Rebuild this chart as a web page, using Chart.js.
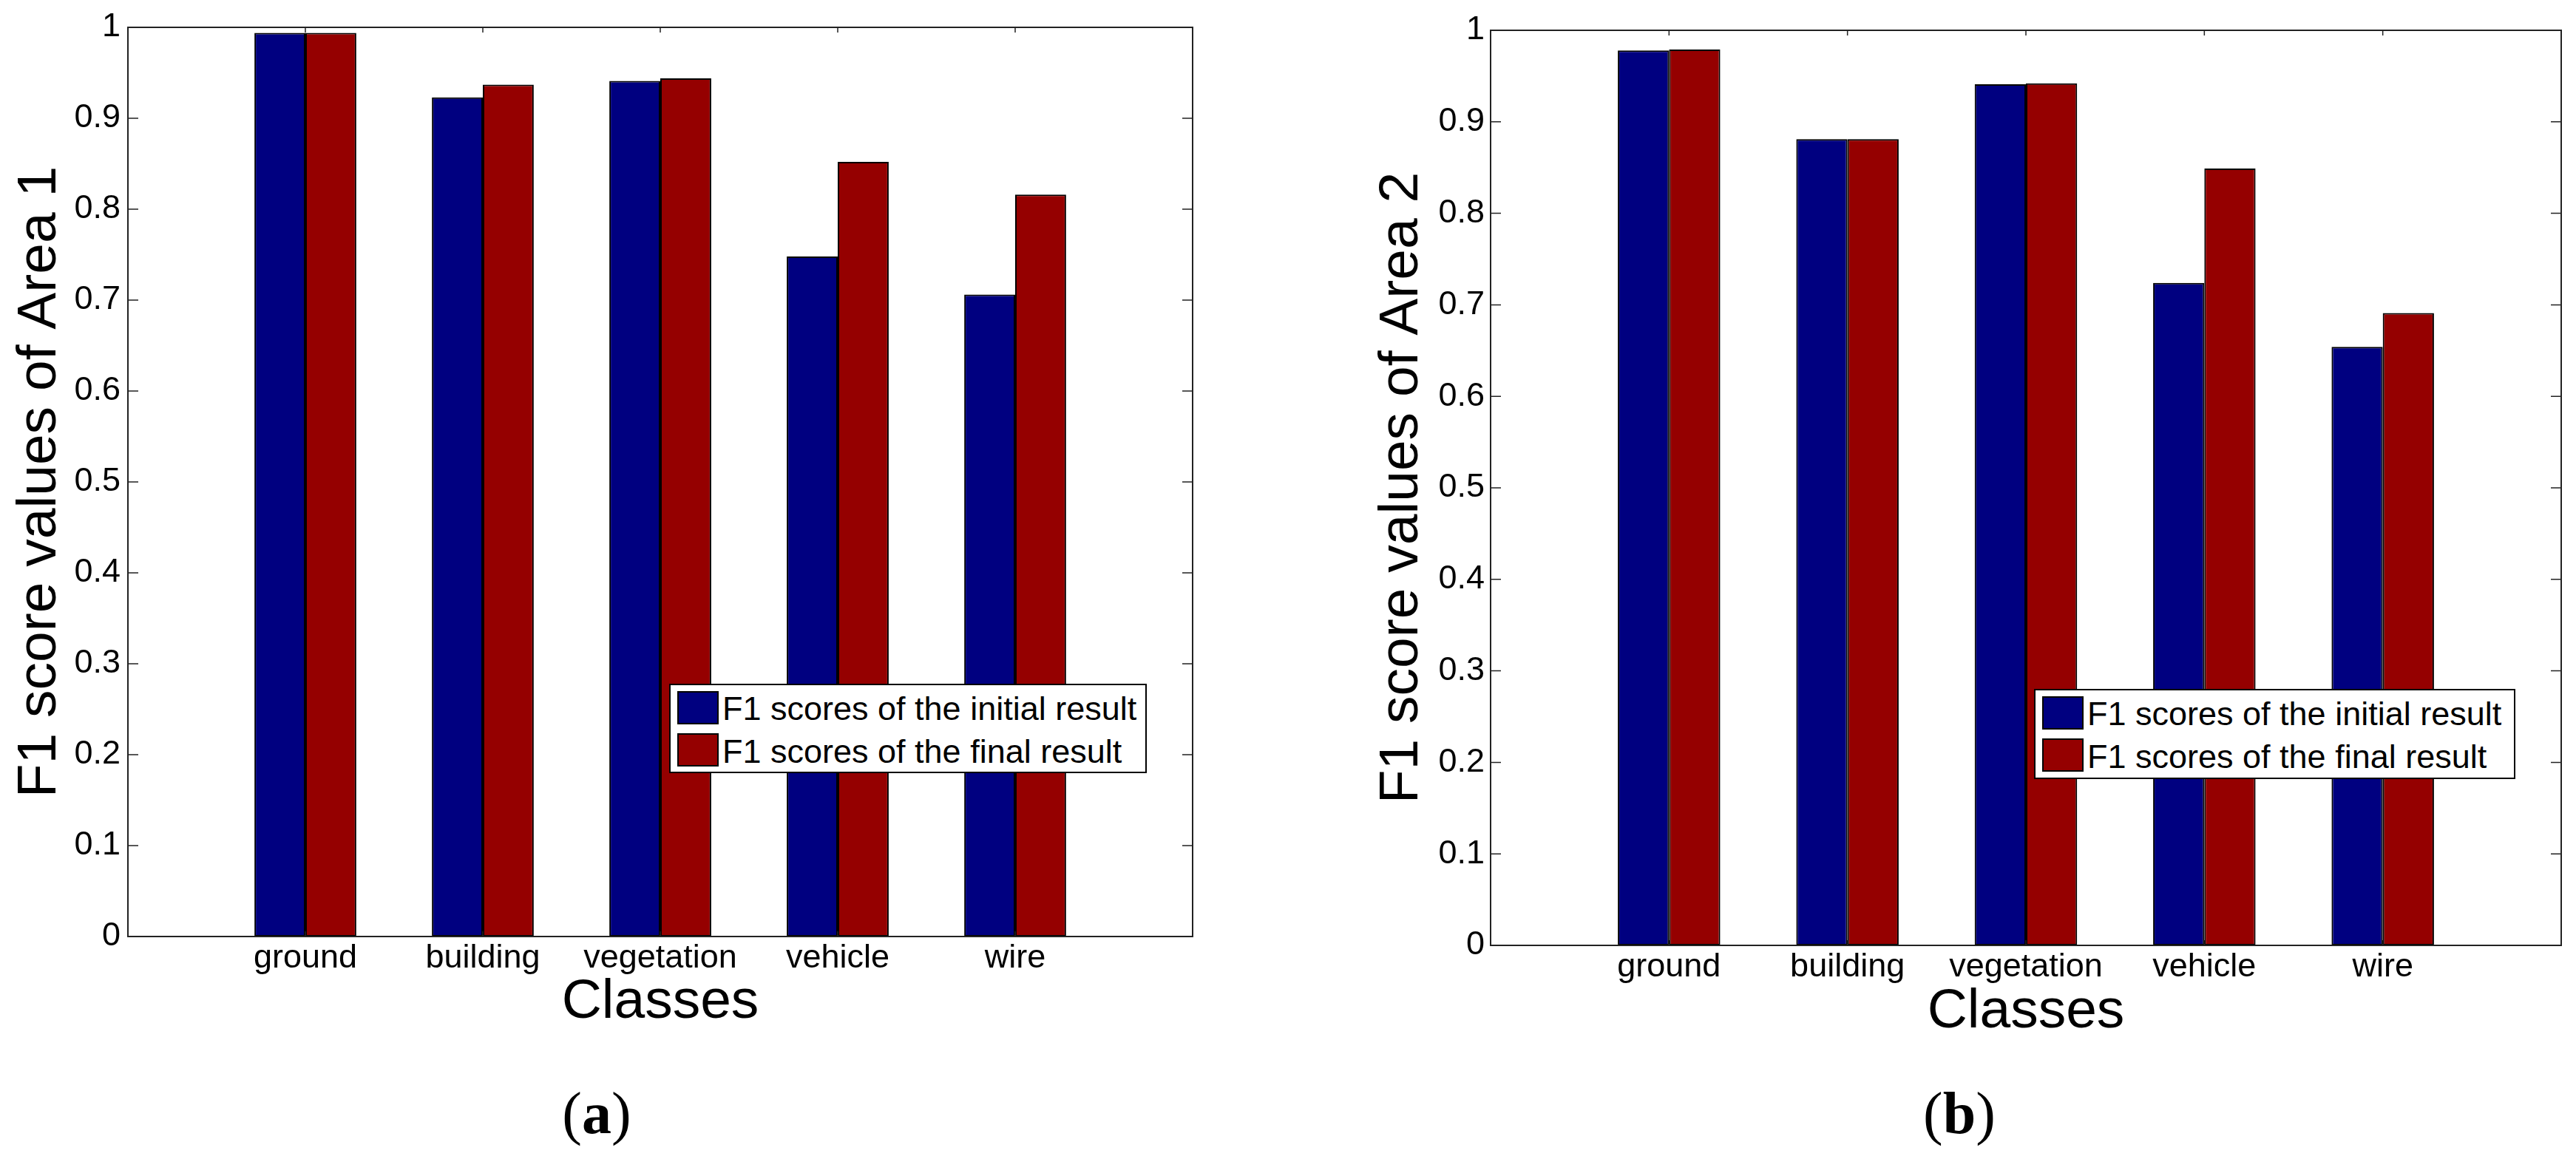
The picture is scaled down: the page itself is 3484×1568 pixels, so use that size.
<!DOCTYPE html>
<html>
<head>
<meta charset="utf-8">
<script src="https://cdn.jsdelivr.net/npm/chart.js@4.4.1/dist/chart.umd.min.js"></script>
<style>
  html, body { margin: 0; padding: 0; background: #fff; }
  .panel { position: absolute; top: 0; width: 1742px; height: 1568px; }
  .panel canvas { position: absolute; left: 0; top: 0; }
  .legend {
    position: absolute; box-sizing: border-box; background: #fff;
    border: 2px solid #000;
    font-family: "Liberation Sans", Arial, sans-serif; font-size: 45px; color: #000;
  }
  .legend .sw { position: absolute; left: 9px; width: 56px; height: 45px; box-sizing: border-box; border: 2px solid #000; }
  .legend .tx { position: absolute; left: 70px; line-height: 45px; white-space: nowrap; }
  .caption {
    position: absolute; width: 300px; text-align: center;
    font-family: "Liberation Serif", "Times New Roman", serif; font-size: 80px; line-height: 80px; color: #000;
  }
</style>
</head>
<body>
<div class="panel" id="panelA" style="left:0"><canvas id="chartA" width="1742" height="1568"></canvas></div>
<div class="panel" id="panelB" style="left:1742px"><canvas id="chartB" width="1742" height="1568"></canvas></div>

<script>
// data
const categories = ["ground", "building", "vegetation", "vehicle", "wire"];
const seriesNames = ["F1 scores of the initial result", "F1 scores of the final result"];
const seriesColors = ["#000080", "#950000"];

const area1Initial = [0.994, 0.923, 0.941, 0.748, 0.706];
const area1Final = [0.994, 0.937, 0.944, 0.852, 0.816];
const area2Initial = [0.978, 0.881, 0.941, 0.724, 0.654];
const area2Final = [0.979, 0.881, 0.942, 0.849, 0.691];

const yTickValues = [0, 0.1, 0.2, 0.3, 0.4, 0.5, 0.6, 0.7, 0.8, 0.9, 1];
const yTickLabels = ["0", "0.1", "0.2", "0.3", "0.4", "0.5", "0.6", "0.7", "0.8", "0.9", "1"];

const FONT = '"Liberation Sans", Arial, sans-serif';

// MATLAB-style box with inward ticks on all four sides
const matlabAxes = {
  id: "matlabAxes",
  afterDatasetsDraw(chart) {
    const { ctx, chartArea: a, scales: { x, y } } = chart;
    ctx.save();
    ctx.strokeStyle = "#222";
    ctx.lineWidth = 1.5;
    ctx.beginPath();
    y.ticks.forEach(t => {
      const py = y.getPixelForValue(t.value);
      ctx.moveTo(a.left, py); ctx.lineTo(a.left + 14, py);
      ctx.moveTo(a.right, py); ctx.lineTo(a.right - 14, py);
    });
    x.ticks.forEach(t => {
      const px = x.getPixelForValue(t.value);
      ctx.moveTo(px, a.bottom); ctx.lineTo(px, a.bottom - 7);
      ctx.moveTo(px, a.top); ctx.lineTo(px, a.top + 7);
    });
    ctx.stroke();
    ctx.lineWidth = 2;
    ctx.strokeRect(a.left, a.top, a.right - a.left, a.bottom - a.top);
    ctx.restore();
  }
};

function makePanel(canvasId, panelId, initial, final, yTitle, g) {
  const chart = new Chart(document.getElementById(canvasId), {
    type: "bar",
    data: {
      datasets: [initial, final].map((vals, k) => ({
        label: seriesNames[k],
        data: categories.map((c, i) => ({ x: i + 1, y: vals[i] })),
        backgroundColor: seriesColors[k],
        borderColor: "#000",
        borderWidth: 2,
        borderSkipped: false,
        categoryPercentage: 0.574,
        barPercentage: 1.0,
      })),
    },
    options: {
      responsive: false,
      devicePixelRatio: 1,
      animation: false,
      layout: { padding: { left: 0, top: g.top, right: g.right, bottom: 0 } },
      scales: {
        x: {
          type: "linear",
          min: 0,
          max: 6,
          offset: false,
          grid: { display: false, drawTicks: false, offset: false },
          border: { display: false },
          afterBuildTicks: (s) => { s.ticks = categories.map((c, i) => ({ value: i + 1 })); },
          afterFit: (s) => { s.height = g.xHeight; },
          ticks: {
            autoSkip: false,
            maxRotation: 0,
            padding: 3,
            color: "#000",
            font: { family: FONT, size: 45 },
            callback: (v) => categories[v - 1],
          },
          title: {
            display: true,
            text: "Classes",
            color: "#000",
            font: { family: FONT, size: 75 },
            padding: { top: 0, bottom: g.xTitlePad },
          },
        },
        y: {
          min: 0,
          max: 1,
          grid: { display: false, drawTicks: false },
          border: { display: false },
          afterBuildTicks: (s) => { s.ticks = yTickValues.map(v => ({ value: v })); },
          afterFit: (s) => { s.width = g.left; },
          ticks: {
            padding: g.yTickPad,
            color: "#000",
            font: { family: FONT, size: 45 },
            callback: (v, i) => yTickLabels[i],
          },
          title: {
            display: true,
            text: yTitle,
            color: "#000",
            font: { family: FONT, size: 75 },
            padding: { top: g.yTitlePad, bottom: 0 },
          },
        },
      },
      plugins: {
        legend: { display: false },
        tooltip: { enabled: false },
      },
    },
    plugins: [matlabAxes],
  });

  // boxed legend inside the axes, built from the datasets
  const panel = document.getElementById(panelId);
  const lg = document.createElement("div");
  lg.className = "legend";
  Object.assign(lg.style, { left: g.lgLeft + "px", top: g.lgTop + "px", width: g.lgW + "px", height: g.lgH + "px" });
  chart.data.datasets.forEach((ds, k) => {
    const sw = document.createElement("div");
    sw.className = "sw";
    sw.style.top = (8 + k * 57) + "px";
    sw.style.background = ds.backgroundColor;
    const tx = document.createElement("div");
    tx.className = "tx";
    tx.style.top = (9 + k * 58) + "px";
    tx.textContent = ds.label;
    lg.appendChild(sw);
    lg.appendChild(tx);
  });
  panel.appendChild(lg);

  const cap = document.createElement("div");
  cap.className = "caption";
  cap.style.left = (g.capX - 150) + "px";
  cap.style.top = "1466px";
  cap.innerHTML = "(<b>" + g.cap + "</b>)";
  panel.appendChild(cap);
}

makePanel("chartA", "panelA", area1Initial, area1Final, "F1 score values of Area 1", {
  left: 173, top: 37, right: 129, xHeight: 301, xTitlePad: 167, yTickPad: 10, yTitlePad: 9,
  lgLeft: 905, lgTop: 925, lgW: 646, lgH: 121, capX: 807, cap: "a",
});
makePanel("chartB", "panelB", area2Initial, area2Final, "F1 score values of Area 2", {
  left: 274, top: 41, right: 20, xHeight: 289, xTitlePad: 154, yTickPad: 8, yTitlePad: 109,
  lgLeft: 1009, lgTop: 932, lgW: 651, lgH: 122, capX: 908, cap: "b",
});
</script>
</body>
</html>
